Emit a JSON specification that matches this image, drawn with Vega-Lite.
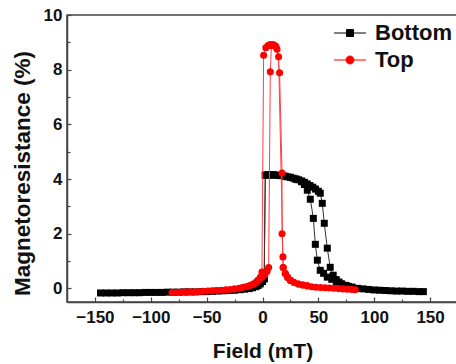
{
  "$schema": "https://vega.github.io/schema/vega-lite/v6.json",
  "autosize": "none",
  "padding": {"left": 67, "top": 15, "right": 0, "bottom": 62},
  "width": 391,
  "height": 287,
  "background": "white",
  "config": {
    "view": {"stroke": "#444444", "strokeWidth": 1.5},
    "axis": {
      "labelFont": "Liberation Sans", "labelFontWeight": "bold", "labelFontSize": 17, "labelColor": "#111111",
      "titleFont": "Liberation Sans", "titleFontWeight": "bold", "titleFontSize": 21, "titleColor": "#111111",
      "domainColor": "#444444", "domainWidth": 1.5, "tickColor": "#444444", "tickWidth": 1.2,
      "grid": false, "labelFlush": false, "labelOverlap": false
    },
    "legend": {"labelFont": "Liberation Sans", "labelFontWeight": "bold", "labelFontSize": 22, "labelColor": "#111111"}
  },
  "data": {"values": [
    {"series":"Bottom","branch":"B1","order":1,"field":-145,"mr":-0.17},
    {"series":"Bottom","branch":"B1","order":2,"field":-140,"mr":-0.17},
    {"series":"Bottom","branch":"B1","order":3,"field":-135,"mr":-0.17},
    {"series":"Bottom","branch":"B1","order":4,"field":-130,"mr":-0.17},
    {"series":"Bottom","branch":"B1","order":5,"field":-125,"mr":-0.16},
    {"series":"Bottom","branch":"B1","order":6,"field":-120,"mr":-0.16},
    {"series":"Bottom","branch":"B1","order":7,"field":-115,"mr":-0.16},
    {"series":"Bottom","branch":"B1","order":8,"field":-110,"mr":-0.16},
    {"series":"Bottom","branch":"B1","order":9,"field":-105,"mr":-0.15},
    {"series":"Bottom","branch":"B1","order":10,"field":-100,"mr":-0.15},
    {"series":"Bottom","branch":"B1","order":11,"field":-95,"mr":-0.15},
    {"series":"Bottom","branch":"B1","order":12,"field":-90,"mr":-0.15},
    {"series":"Bottom","branch":"B1","order":13,"field":-85,"mr":-0.14},
    {"series":"Bottom","branch":"B1","order":14,"field":-80,"mr":-0.14},
    {"series":"Bottom","branch":"B1","order":15,"field":-75,"mr":-0.14},
    {"series":"Bottom","branch":"B1","order":16,"field":-70,"mr":-0.13},
    {"series":"Bottom","branch":"B1","order":17,"field":-65,"mr":-0.13},
    {"series":"Bottom","branch":"B1","order":18,"field":-60,"mr":-0.13},
    {"series":"Bottom","branch":"B1","order":19,"field":-55,"mr":-0.12},
    {"series":"Bottom","branch":"B1","order":20,"field":-50,"mr":-0.12},
    {"series":"Bottom","branch":"B1","order":21,"field":-45,"mr":-0.11},
    {"series":"Bottom","branch":"B1","order":22,"field":-40,"mr":-0.1},
    {"series":"Bottom","branch":"B1","order":23,"field":-35,"mr":-0.09},
    {"series":"Bottom","branch":"B1","order":24,"field":-30,"mr":-0.08},
    {"series":"Bottom","branch":"B1","order":25,"field":-25,"mr":-0.07},
    {"series":"Bottom","branch":"B1","order":26,"field":-20,"mr":-0.05},
    {"series":"Bottom","branch":"B1","order":27,"field":-16,"mr":-0.03},
    {"series":"Bottom","branch":"B1","order":28,"field":-12,"mr":-0.01},
    {"series":"Bottom","branch":"B1","order":29,"field":-9,"mr":0.02},
    {"series":"Bottom","branch":"B1","order":30,"field":-6,"mr":0.06},
    {"series":"Bottom","branch":"B1","order":31,"field":-4,"mr":0.1},
    {"series":"Bottom","branch":"B1","order":32,"field":-2,"mr":0.16},
    {"series":"Bottom","branch":"B1","order":33,"field":0,"mr":0.25},
    {"series":"Bottom","branch":"B1","order":34,"field":1.5,"mr":0.35},
    {"series":"Bottom","branch":"B1","order":35,"field":2.5,"mr":4.14},
    {"series":"Bottom","branch":"B1","order":36,"field":5,"mr":4.15},
    {"series":"Bottom","branch":"B1","order":37,"field":7.5,"mr":4.15},
    {"series":"Bottom","branch":"B1","order":38,"field":10,"mr":4.15},
    {"series":"Bottom","branch":"B1","order":39,"field":12.5,"mr":4.14},
    {"series":"Bottom","branch":"B1","order":40,"field":15,"mr":4.13},
    {"series":"Bottom","branch":"B1","order":41,"field":17.5,"mr":4.12},
    {"series":"Bottom","branch":"B1","order":42,"field":20,"mr":4.1},
    {"series":"Bottom","branch":"B1","order":43,"field":22.5,"mr":4.08},
    {"series":"Bottom","branch":"B1","order":44,"field":25,"mr":4.06},
    {"series":"Bottom","branch":"B1","order":45,"field":27.5,"mr":4.03},
    {"series":"Bottom","branch":"B1","order":46,"field":30,"mr":4.0},
    {"series":"Bottom","branch":"B1","order":47,"field":32.5,"mr":3.97},
    {"series":"Bottom","branch":"B1","order":48,"field":35,"mr":3.93},
    {"series":"Bottom","branch":"B1","order":49,"field":37.5,"mr":3.88},
    {"series":"Bottom","branch":"B1","order":50,"field":40,"mr":3.82},
    {"series":"Bottom","branch":"B1","order":51,"field":42.5,"mr":3.76},
    {"series":"Bottom","branch":"B1","order":52,"field":45,"mr":3.7},
    {"series":"Bottom","branch":"B1","order":53,"field":47.5,"mr":3.63},
    {"series":"Bottom","branch":"B1","order":54,"field":50,"mr":3.55},
    {"series":"Bottom","branch":"B1","order":55,"field":51.7,"mr":3.48},
    {"series":"Bottom","branch":"B1","order":56,"field":53.5,"mr":3.11},
    {"series":"Bottom","branch":"B1","order":57,"field":55.3,"mr":2.38},
    {"series":"Bottom","branch":"B1","order":58,"field":58,"mr":1.47},
    {"series":"Bottom","branch":"B1","order":59,"field":60.6,"mr":0.77},
    {"series":"Bottom","branch":"B1","order":60,"field":63.3,"mr":0.48},
    {"series":"Bottom","branch":"B1","order":61,"field":66,"mr":0.32},
    {"series":"Bottom","branch":"B1","order":62,"field":68.5,"mr":0.23},
    {"series":"Bottom","branch":"B1","order":63,"field":71,"mr":0.16},
    {"series":"Bottom","branch":"B1","order":64,"field":74,"mr":0.11},
    {"series":"Bottom","branch":"B1","order":65,"field":77,"mr":0.07},
    {"series":"Bottom","branch":"B1","order":66,"field":80,"mr":0.04},
    {"series":"Bottom","branch":"B1","order":67,"field":85,"mr":0.0},
    {"series":"Bottom","branch":"B1","order":68,"field":90,"mr":-0.02},
    {"series":"Bottom","branch":"B1","order":69,"field":95,"mr":-0.04},
    {"series":"Bottom","branch":"B1","order":70,"field":100,"mr":-0.06},
    {"series":"Bottom","branch":"B1","order":71,"field":105,"mr":-0.07},
    {"series":"Bottom","branch":"B1","order":72,"field":110,"mr":-0.08},
    {"series":"Bottom","branch":"B1","order":73,"field":115,"mr":-0.09},
    {"series":"Bottom","branch":"B1","order":74,"field":120,"mr":-0.1},
    {"series":"Bottom","branch":"B1","order":75,"field":125,"mr":-0.1},
    {"series":"Bottom","branch":"B1","order":76,"field":130,"mr":-0.11},
    {"series":"Bottom","branch":"B1","order":77,"field":135,"mr":-0.11},
    {"series":"Bottom","branch":"B1","order":78,"field":140,"mr":-0.12},
    {"series":"Bottom","branch":"B1","order":79,"field":144,"mr":-0.12},
    {"series":"Bottom","branch":"B2","order":1,"field":80,"mr":0.04},
    {"series":"Bottom","branch":"B2","order":2,"field":75,"mr":0.1},
    {"series":"Bottom","branch":"B2","order":3,"field":70,"mr":0.16},
    {"series":"Bottom","branch":"B2","order":4,"field":66,"mr":0.25},
    {"series":"Bottom","branch":"B2","order":5,"field":62,"mr":0.33},
    {"series":"Bottom","branch":"B2","order":6,"field":58,"mr":0.41},
    {"series":"Bottom","branch":"B2","order":7,"field":54.7,"mr":0.55},
    {"series":"Bottom","branch":"B2","order":8,"field":51.7,"mr":0.66},
    {"series":"Bottom","branch":"B2","order":9,"field":49.1,"mr":1.03},
    {"series":"Bottom","branch":"B2","order":10,"field":47.3,"mr":1.61},
    {"series":"Bottom","branch":"B2","order":11,"field":45.5,"mr":2.56},
    {"series":"Bottom","branch":"B2","order":12,"field":42.8,"mr":3.26},
    {"series":"Bottom","branch":"B2","order":13,"field":40.1,"mr":3.59},
    {"series":"Bottom","branch":"B2","order":14,"field":37.5,"mr":3.8},
    {"series":"Bottom","branch":"B2","order":15,"field":35,"mr":3.9},
    {"series":"Bottom","branch":"B2","order":16,"field":30,"mr":3.99},
    {"series":"Bottom","branch":"B2","order":17,"field":25,"mr":4.06},
    {"series":"Bottom","branch":"B2","order":18,"field":20,"mr":4.1},
    {"series":"Bottom","branch":"B2","order":19,"field":15,"mr":4.13},
    {"series":"Bottom","branch":"B2","order":20,"field":10,"mr":4.15},
    {"series":"Bottom","branch":"B2","order":21,"field":5,"mr":4.15},
    {"series":"Bottom","branch":"B2","order":22,"field":2.5,"mr":4.14},
    {"series":"Bottom","branch":"B2","order":23,"field":1.5,"mr":0.35},
    {"series":"Bottom","branch":"B2","order":24,"field":0,"mr":0.25},
    {"series":"Top","branch":"T1","order":1,"field":-81,"mr":-0.15},
    {"series":"Top","branch":"T1","order":2,"field":-77,"mr":-0.15},
    {"series":"Top","branch":"T1","order":3,"field":-73,"mr":-0.14},
    {"series":"Top","branch":"T1","order":4,"field":-69,"mr":-0.14},
    {"series":"Top","branch":"T1","order":5,"field":-65,"mr":-0.13},
    {"series":"Top","branch":"T1","order":6,"field":-61,"mr":-0.13},
    {"series":"Top","branch":"T1","order":7,"field":-57,"mr":-0.12},
    {"series":"Top","branch":"T1","order":8,"field":-53,"mr":-0.11},
    {"series":"Top","branch":"T1","order":9,"field":-49,"mr":-0.1},
    {"series":"Top","branch":"T1","order":10,"field":-45,"mr":-0.09},
    {"series":"Top","branch":"T1","order":11,"field":-41,"mr":-0.08},
    {"series":"Top","branch":"T1","order":12,"field":-37,"mr":-0.07},
    {"series":"Top","branch":"T1","order":13,"field":-33,"mr":-0.05},
    {"series":"Top","branch":"T1","order":14,"field":-29,"mr":-0.04},
    {"series":"Top","branch":"T1","order":15,"field":-25,"mr":-0.02},
    {"series":"Top","branch":"T1","order":16,"field":-21,"mr":0.0},
    {"series":"Top","branch":"T1","order":17,"field":-18,"mr":0.03},
    {"series":"Top","branch":"T1","order":18,"field":-15,"mr":0.06},
    {"series":"Top","branch":"T1","order":19,"field":-12,"mr":0.09},
    {"series":"Top","branch":"T1","order":20,"field":-10,"mr":0.12},
    {"series":"Top","branch":"T1","order":21,"field":-8,"mr":0.16},
    {"series":"Top","branch":"T1","order":22,"field":-6,"mr":0.21},
    {"series":"Top","branch":"T1","order":23,"field":-4,"mr":0.29},
    {"series":"Top","branch":"T1","order":24,"field":-2,"mr":0.4},
    {"series":"Top","branch":"T1","order":25,"field":-0.5,"mr":0.6},
    {"series":"Top","branch":"T1","order":26,"field":1,"mr":8.53},
    {"series":"Top","branch":"T1","order":27,"field":3,"mr":8.8},
    {"series":"Top","branch":"T1","order":28,"field":5,"mr":8.88},
    {"series":"Top","branch":"T1","order":29,"field":7,"mr":8.92},
    {"series":"Top","branch":"T1","order":30,"field":9,"mr":8.92},
    {"series":"Top","branch":"T1","order":31,"field":11,"mr":8.88},
    {"series":"Top","branch":"T1","order":32,"field":13,"mr":8.75},
    {"series":"Top","branch":"T1","order":33,"field":15.3,"mr":7.89},
    {"series":"Top","branch":"T1","order":34,"field":17.5,"mr":4.22},
    {"series":"Top","branch":"T1","order":35,"field":17.5,"mr":2.0},
    {"series":"Top","branch":"T1","order":36,"field":18.3,"mr":1.15},
    {"series":"Top","branch":"T1","order":37,"field":18.5,"mr":0.76},
    {"series":"Top","branch":"T1","order":38,"field":20.4,"mr":0.54},
    {"series":"Top","branch":"T1","order":39,"field":22.5,"mr":0.4},
    {"series":"Top","branch":"T1","order":40,"field":25,"mr":0.29},
    {"series":"Top","branch":"T1","order":41,"field":28,"mr":0.22},
    {"series":"Top","branch":"T1","order":42,"field":32,"mr":0.16},
    {"series":"Top","branch":"T1","order":43,"field":36,"mr":0.12},
    {"series":"Top","branch":"T1","order":44,"field":40,"mr":0.09},
    {"series":"Top","branch":"T1","order":45,"field":44,"mr":0.06},
    {"series":"Top","branch":"T1","order":46,"field":48,"mr":0.04},
    {"series":"Top","branch":"T1","order":47,"field":52,"mr":0.03},
    {"series":"Top","branch":"T1","order":48,"field":56,"mr":0.02},
    {"series":"Top","branch":"T1","order":49,"field":60,"mr":0.01},
    {"series":"Top","branch":"T1","order":50,"field":64,"mr":0.0},
    {"series":"Top","branch":"T1","order":51,"field":68,"mr":-0.01},
    {"series":"Top","branch":"T1","order":52,"field":72,"mr":-0.02},
    {"series":"Top","branch":"T1","order":53,"field":76,"mr":-0.03},
    {"series":"Top","branch":"T1","order":54,"field":80,"mr":-0.04},
    {"series":"Top","branch":"T1","order":55,"field":83,"mr":-0.05},
    {"series":"Top","branch":"T2","order":1,"field":40,"mr":0.09},
    {"series":"Top","branch":"T2","order":2,"field":36,"mr":0.12},
    {"series":"Top","branch":"T2","order":3,"field":32,"mr":0.16},
    {"series":"Top","branch":"T2","order":4,"field":28,"mr":0.22},
    {"series":"Top","branch":"T2","order":5,"field":25,"mr":0.29},
    {"series":"Top","branch":"T2","order":6,"field":22.5,"mr":0.4},
    {"series":"Top","branch":"T2","order":7,"field":20.4,"mr":0.54},
    {"series":"Top","branch":"T2","order":8,"field":18.5,"mr":0.76},
    {"series":"Top","branch":"T2","order":9,"field":14.4,"mr":8.47},
    {"series":"Top","branch":"T2","order":10,"field":12,"mr":8.85},
    {"series":"Top","branch":"T2","order":11,"field":10,"mr":8.9},
    {"series":"Top","branch":"T2","order":12,"field":8,"mr":8.88},
    {"series":"Top","branch":"T2","order":13,"field":7,"mr":7.92},
    {"series":"Top","branch":"T2","order":14,"field":5.5,"mr":0.76},
    {"series":"Top","branch":"T2","order":15,"field":4,"mr":0.62},
    {"series":"Top","branch":"T2","order":16,"field":2,"mr":0.5},
    {"series":"Top","branch":"T2","order":17,"field":0,"mr":0.42},
    {"series":"Top","branch":"T2","order":18,"field":-2,"mr":0.36},
    {"series":"Top","branch":"T2","order":19,"field":-4,"mr":0.29},
    {"series":"Top","branch":"T2","order":20,"field":-6,"mr":0.21}
  ]},
  "encoding": {
    "x": {
      "field": "field", "type": "quantitative",
      "scale": {"domain": [-175, 175], "nice": false, "zero": false},
      "axis": {
        "title": "Field (mT)",
        "values": [-150, -125, -100, -75, -50, -25, 0, 25, 50, 75, 100, 125, 150],
        "labelExpr": "datum.value % 50 === 0 ? datum.label : ''",
        "tickSize": {"condition": {"test": "datum.value % 50 !== 0", "value": -3}, "value": -5},
        "labelPadding": 12,
        "titleBaseline": "alphabetic", "titleY": 55
      }
    },
    "y": {
      "field": "mr", "type": "quantitative",
      "scale": {"domain": [-0.5, 10], "nice": false, "zero": false},
      "axis": {
        "title": "Magnetoresistance (%)",
        "values": [0, 1, 2, 3, 4, 5, 6, 7, 8, 9, 10],
        "labelExpr": "datum.value % 2 === 0 ? datum.label : ''",
        "tickSize": {"condition": {"test": "datum.value % 2 !== 0", "value": -3}, "value": -4},
        "labelPadding": 9,
        "titleFontSize": 22.5, "titleBaseline": "alphabetic", "titleX": -38, "titleY": 158
      }
    }
  },
  "layer": [
    {
      "transform": [{"filter": "datum.series === 'Bottom'"}],
      "mark": {"type": "line", "strokeWidth": 1, "color": "#333333"},
      "encoding": {"detail": {"field": "branch"}, "order": {"field": "order", "type": "quantitative"}}
    },
    {
      "transform": [{"filter": "datum.series === 'Bottom'"}],
      "mark": {"type": "point", "filled": true, "opacity": 1, "size": 49, "shape": "square"},
      "encoding": {
        "color": {"field": "series", "type": "nominal", "scale": {"domain": ["Bottom"], "range": ["#000000"]},
          "legend": {
            "title": null, "orient": "none", "legendX": 272, "legendY": 7, "padding": 0,
            "labelOffset": 14, "symbolSize": 400, "symbolStrokeWidth": 1, "symbolStrokeColor": "#000000",
            "symbolType": "M-1.6,0H1.6M-0.35,-0.35H0.35V0.35H-0.35Z",
            "encode": {"symbols": {"update": {
              "shape": {"value": "M-1.6,0H1.6M-0.35,-0.35H0.35V0.35H-0.35Z"},
              "stroke": {"value": "#000000"},
              "fill": {"value": "#000000"},
              "strokeWidth": {"value": 1},
              "opacity": {"value": 1}
            }}}
          }}
      }
    },
    {
      "transform": [{"filter": "datum.series === 'Top'"}],
      "mark": {"type": "line", "strokeWidth": 1, "color": "#ff4040"},
      "encoding": {"detail": {"field": "branch"}, "order": {"field": "order", "type": "quantitative"}}
    },
    {
      "transform": [{"filter": "datum.series === 'Top'"}],
      "mark": {"type": "point", "filled": true, "opacity": 1, "size": 50, "shape": "circle"},
      "encoding": {
        "fill": {"field": "series", "type": "nominal", "scale": {"domain": ["Top"], "range": ["#ff0000"]},
          "legend": {
            "title": null, "orient": "none", "legendX": 272, "legendY": 34, "padding": 0,
            "labelOffset": 14, "symbolSize": 400, "symbolStrokeWidth": 1, "symbolStrokeColor": "#ff0000",
            "symbolType": "M-1.6,0H1.6M0.4,0A0.4,0.4,0,1,1,-0.4,0A0.4,0.4,0,1,1,0.4,0Z",
            "encode": {"symbols": {"update": {
              "shape": {"value": "M-1.6,0H1.6M0.4,0A0.4,0.4,0,1,1,-0.4,0A0.4,0.4,0,1,1,0.4,0Z"},
              "stroke": {"value": "#ff0000"},
              "fill": {"value": "#ff0000"},
              "strokeWidth": {"value": 1},
              "opacity": {"value": 1}
            }}}
          }}
      }
    }
  ]
}
